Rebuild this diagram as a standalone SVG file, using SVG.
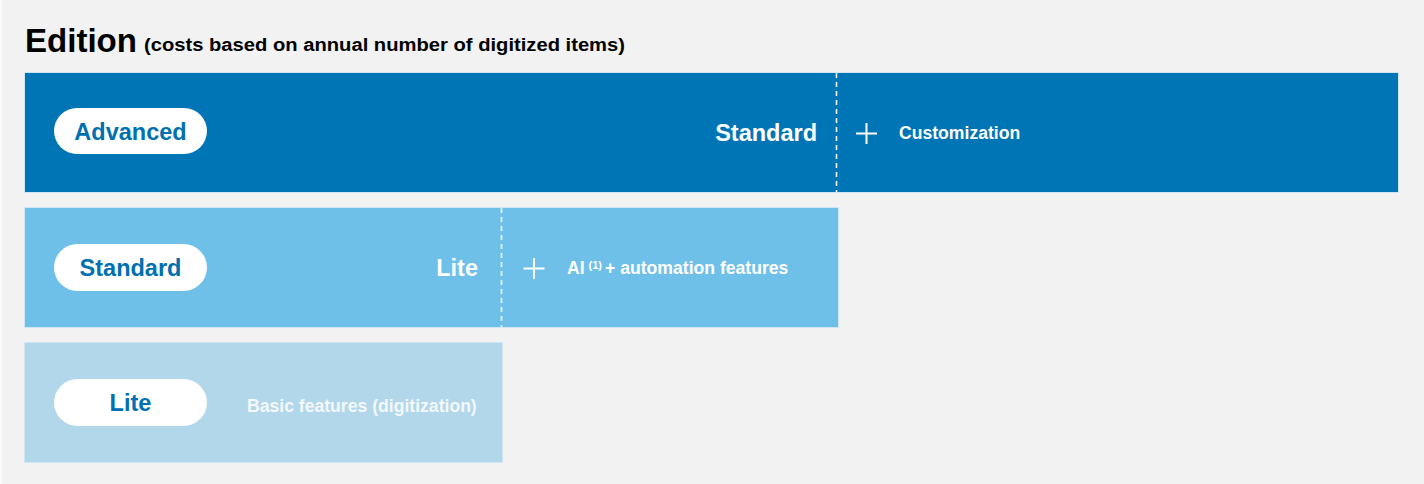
<svg xmlns="http://www.w3.org/2000/svg" width="1424" height="484" viewBox="0 0 1424 484">
<style>
text{font-family:"Liberation Sans",Arial,sans-serif;font-weight:bold}
.pill{fill:#ffffff}
.pt{fill:#0070b0;font-size:23.5px;text-anchor:middle}
.wt{fill:#ffffff;font-size:23.5px;text-anchor:end}
.ft{fill:#ffffff;font-size:17.6px}
.dash{stroke:#ffffff;stroke-width:1.5;stroke-dasharray:5 4;fill:none}
.plus{stroke:#ffffff;stroke-width:2;fill:none}
.bar{stroke:#cfe6f3;stroke-width:1}
</style>
<rect x="0" y="0" width="1424" height="484" fill="#f2f2f2"/>
<rect x="0" y="0" width="2" height="484" fill="#fbfbfb"/>
<g id="title">
<text x="25" y="52" font-size="34" fill="#000000" textLength="112" lengthAdjust="spacingAndGlyphs">Edition</text>
<text x="144" y="51" font-size="18" fill="#000000" textLength="481" lengthAdjust="spacingAndGlyphs">(costs based on annual number of digitized items)</text>
</g>
<g id="advanced">
<rect class="bar" x="24.5" y="72.5" width="1374" height="120" fill="#0075b6"/>
<rect class="pill" x="54" y="108" width="153" height="46" rx="23"/>
<text class="pt" x="130.5" y="139.5">Advanced</text>
<text class="wt" x="817" y="141">Standard</text>
<path class="plus" d="M856 133.5H877M866.5 123V144"/>
<text class="ft" x="899" y="138.5">Customization</text>
</g>
<g id="standard">
<rect class="bar" x="24.5" y="207.5" width="814" height="120" fill="#6ec0e8"/>
<rect class="pill" x="54" y="244" width="153" height="47" rx="23.5"/>
<text class="pt" x="130.5" y="275.5">Standard</text>
<text class="wt" x="478" y="276">Lite</text>
<path class="plus" d="M523.5 268.5H544.5M534 258V279"/>
<text class="ft" x="567" y="273.5">AI<tspan font-size="11" dx="4" dy="-5">(1)</tspan><tspan dx="3" dy="5">+ automation features</tspan></text>
</g>
<g id="lite">
<rect class="bar" x="24.5" y="342.5" width="478" height="120" fill="#b2d6ea"/>
<rect class="pill" x="54" y="379" width="153" height="47" rx="23.5"/>
<text class="pt" x="130.5" y="411">Lite</text>
<text x="247" y="411.5" font-size="17.6" fill="#f3f9fc">Basic features (digitization)</text>
</g>
<g id="connectors">
<line class="dash" x1="836.5" y1="73" x2="836.5" y2="192"/>
<line class="dash" x1="501.5" y1="208" x2="501.5" y2="327"/>
</g>
</svg>
